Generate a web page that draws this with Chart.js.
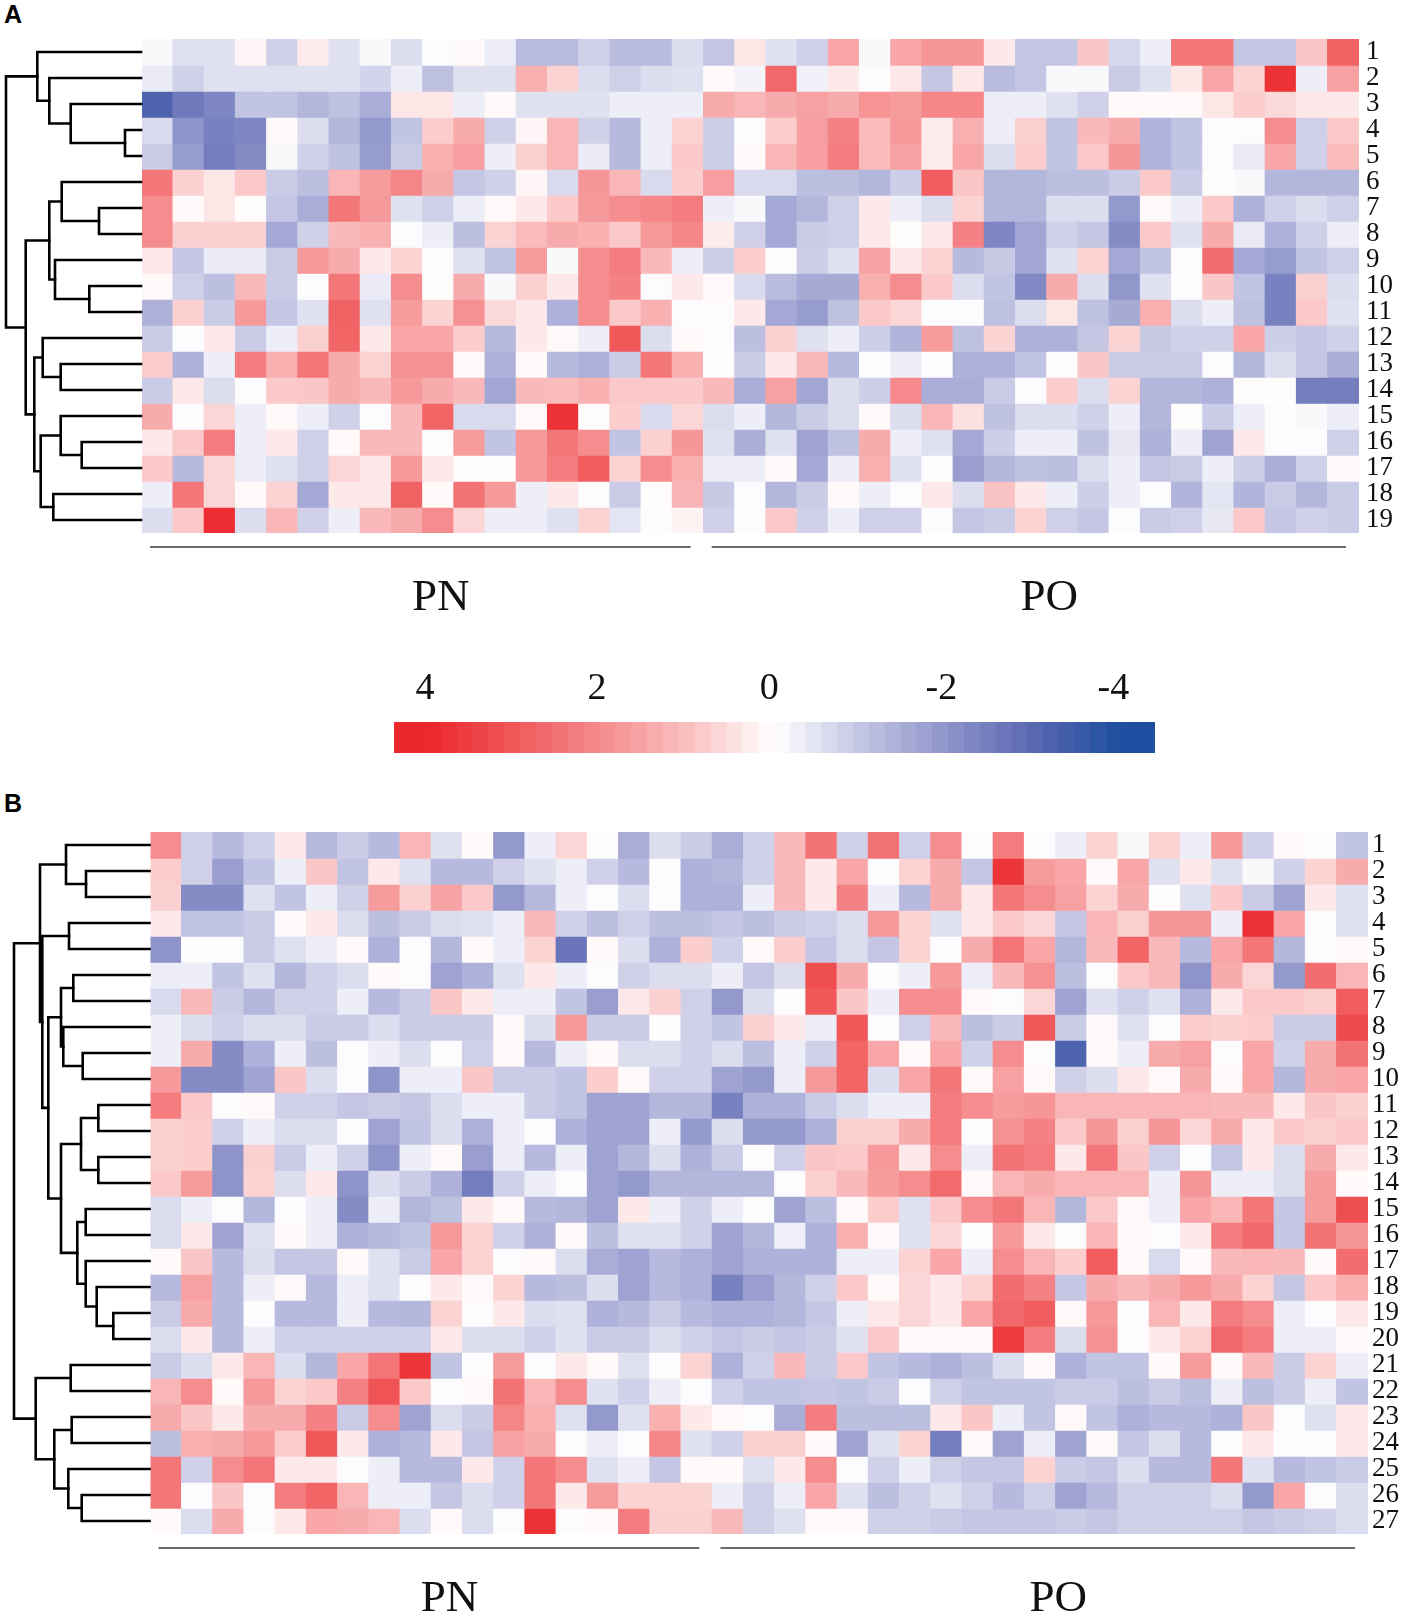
<!DOCTYPE html>
<html><head><meta charset="utf-8">
<script src="https://cdn.jsdelivr.net/npm/chart.js@4.4.1/dist/chart.umd.min.js"></script>
<style>
html,body{margin:0;padding:0;background:#fff;}
#wrap{position:relative;width:1402px;height:1619px;overflow:hidden;background:#fff;}
canvas{position:absolute;}
.plab{position:absolute;font-family:"Liberation Sans",Arial,sans-serif;font-weight:bold;font-size:25px;line-height:25px;color:#000;}
</style></head><body>
<div id="wrap">
<div class="plab" style="left:4px;top:2px;">A</div>
<div class="plab" style="left:4px;top:791px;">B</div>
<canvas id="cA" width="1402" height="650" style="left:0;top:0"></canvas>
<canvas id="cBar" width="800" height="130" style="left:380px;top:640px"></canvas>
<canvas id="cB" width="1402" height="839" style="left:0;top:780px"></canvas>
</div>
<script>
// ---------------- DATA ----------------
// Panel A : 19 rows x 39 samples (18 PN + 21 PO)
const a01=[-0.1,-0.55,-0.55,0.15,-0.8,0.3,-0.55,-0.1,-0.6,-0.05,0.1,-0.3,-1.2,-1.2,-0.8,-1.2,-1.2,-0.6,-1.0,0.4,-0.55,-0.8,1.5,-0.1,1.5,1.8,1.8,0.35,-1.0,-1.0,0.9,-0.7,-0.3,2.4,2.4,-1.0,-1.0,0.9,2.8];
const a02=[-0.35,-0.8,-0.55,-0.55,-0.55,-0.55,-0.55,-0.75,-0.3,-1.1,-0.55,-0.55,1.3,0.7,-0.6,-0.8,-0.6,-0.55,0.1,-0.2,2.7,-0.25,0.35,-0.05,0.35,-1.0,0.35,-1.2,-1.0,-0.1,-0.1,-0.9,-0.55,0.4,1.5,0.7,3.8,-0.3,1.6];
const a03=[-3.2,-2.6,-2.3,-1.05,-1.05,-1.3,-1.1,-1.5,0.4,0.4,-0.3,0.1,-0.55,-0.55,-0.55,-0.3,-0.3,-0.3,1.4,1.2,1.4,1.6,1.4,1.85,1.7,2.1,2.1,-0.3,-0.3,-0.55,-0.8,0.1,0.1,0.1,0.4,0.8,0.6,0.35,0.35];
const a04=[-0.65,-2.0,-2.4,-2.3,0.1,-0.6,-1.3,-1.9,-1.05,0.8,1.4,-0.8,0.15,1.2,-0.8,-1.25,-0.3,0.7,-0.85,-0.05,0.8,1.65,2.2,1.1,1.75,0.3,1.3,-0.3,0.75,-1.05,1.15,1.4,-1.35,-1.05,-0.05,-0.05,2.0,-0.8,0.85];
const a05=[-0.9,-1.85,-2.5,-2.2,-0.1,-0.8,-1.1,-1.85,-0.9,1.3,1.65,-0.3,0.75,1.2,-0.35,-1.25,-0.3,0.85,-0.85,0.1,1.2,1.65,2.3,1.1,1.6,0.3,1.5,-0.6,0.8,-1.05,0.85,1.8,-1.35,-1.05,-0.05,-0.35,1.5,-0.8,1.1];
const a06=[2.4,0.75,0.4,0.85,-0.9,-1.15,1.2,1.7,2.1,1.4,-1.0,-0.8,0.15,-0.65,1.8,1.2,-0.65,0.8,1.65,-0.65,-0.65,-1.15,-1.15,-1.3,-0.85,2.9,0.9,-1.3,-1.3,-1.15,-1.15,-0.9,0.85,-0.9,0.05,-0.1,-1.3,-1.3,-1.3];
const a07=[2.0,0.1,0.4,0.05,-1.0,-1.5,2.4,1.75,-0.55,-0.8,-0.3,0.1,0.35,0.85,1.75,2.0,2.1,2.3,-0.3,-0.1,-1.6,-1.3,-0.8,0.35,-0.3,-0.6,0.7,-1.3,-1.3,-0.6,-0.6,-1.9,0.1,-0.3,0.85,-1.4,-0.8,-0.6,-0.8];
const a08=[2.0,0.75,0.75,0.75,-1.6,-0.8,1.15,1.3,-0.05,-0.3,-1.15,0.7,1.1,1.4,1.3,0.85,1.75,2.1,0.3,-0.8,-1.6,-0.9,-0.8,0.35,0.05,0.35,2.2,-2.3,-1.65,-0.8,-1.0,-2.2,0.85,-0.55,1.4,-0.35,-1.4,-0.8,-0.3];
const a09=[0.35,-1.0,-0.35,-0.35,-0.9,1.75,1.4,0.35,0.7,0.05,-0.55,-1.05,1.7,-0.1,2.0,2.3,1.15,-0.3,-0.85,0.8,-0.05,-0.85,-0.55,1.55,0.35,0.7,-1.25,-0.95,-1.65,-0.55,0.7,-1.6,-1.05,0.05,2.6,-1.6,-1.85,-1.05,-0.8];
const a10=[0.1,-0.8,-1.15,1.15,-0.9,-0.05,2.4,-0.35,2.0,0.05,1.4,-0.1,0.75,0.35,2.0,2.2,-0.05,0.35,0.1,-0.65,-1.2,-1.55,-1.55,1.3,2.0,0.85,-0.6,-1.05,-2.25,1.4,-0.6,-1.95,-0.55,-0.05,0.9,-1.05,-2.4,0.75,-0.6];
const a11=[-1.4,0.75,-0.9,1.75,-1.0,-0.55,2.8,-0.55,1.7,0.7,1.9,0.6,0.35,-1.4,2.0,0.85,1.3,-0.05,-0.05,0.35,-1.6,-1.85,-1.1,0.85,0.65,-0.05,-0.05,-1.1,-0.6,0.4,-1.1,-1.55,1.3,-0.6,-0.3,-1.1,-2.4,0.85,-0.55];
const a12=[-0.9,-0.05,0.35,-0.9,-0.3,0.75,2.75,0.35,1.5,1.5,0.8,-1.25,0.35,0.1,-0.3,3.0,-0.6,0.1,-0.05,-1.15,0.75,-0.55,-0.3,-0.85,-1.35,1.7,-1.1,0.7,-1.4,-1.4,-1.0,0.7,-0.95,-0.8,-0.8,1.5,-0.85,-1.0,-0.8];
const a13=[0.8,-1.4,-0.3,2.3,1.3,2.4,1.4,0.7,1.9,1.9,0.1,-1.4,0.1,-1.25,-1.4,-0.9,2.4,1.3,-0.05,-0.9,0.35,1.15,-1.25,-0.05,-0.3,-0.05,-1.4,-1.4,-1.05,0.05,0.9,-0.9,-0.9,-0.9,-0.05,-1.3,-0.6,-1.0,-1.5];
const a14=[-0.9,0.35,-0.6,-0.05,0.85,0.9,1.4,1.15,1.75,1.4,1.15,-1.65,1.15,1.1,1.3,0.85,0.85,0.85,1.15,-1.5,1.6,-1.65,-0.6,-0.85,2.05,-1.5,-1.5,-0.9,-0.05,0.8,-0.6,0.7,-1.3,-1.3,-1.4,0.05,0.05,-2.5,-2.5];
const a15=[1.4,-0.05,0.65,-0.3,0.1,-0.3,-0.8,-0.05,1.15,2.75,-0.65,-0.65,0.1,3.8,0.05,0.8,-0.65,0.65,-0.6,-0.3,-1.3,-0.9,-0.6,0.1,-0.6,1.2,0.5,-1.1,-0.6,-0.6,-0.8,-0.3,-1.3,0.05,-0.9,-0.3,-0.05,-0.1,-0.3];
const a16=[0.35,0.85,2.3,-0.3,0.35,-0.8,0.1,1.15,1.15,-0.05,1.7,-1.05,1.75,2.4,2.0,-1.05,0.75,1.8,-0.55,-1.45,-0.55,-1.7,-1.1,1.4,-0.3,-0.55,-1.6,-0.85,-0.3,-0.3,-1.1,-0.4,-1.4,-0.3,-1.7,0.35,-0.05,-0.05,-0.8];
const a17=[0.85,-1.25,0.65,-0.3,-0.55,-0.8,0.65,0.35,1.75,0.35,0.05,0.05,1.75,2.3,2.9,0.7,2.0,1.3,-0.3,-0.3,0.1,-1.6,-0.3,1.3,-0.55,-0.05,-1.8,-1.3,-1.1,-1.15,-0.6,-0.3,-1.0,-0.9,-0.3,-0.85,-1.5,-0.8,0.1];
const a18=[-0.3,2.4,0.65,0.1,0.7,-1.6,0.35,0.35,2.8,0.1,2.5,1.75,-0.3,0.35,-0.05,-0.9,0.05,1.25,-0.95,-0.05,-1.3,-0.9,0.1,-0.3,-0.05,0.35,-0.6,0.95,0.35,-0.3,-0.85,-0.3,-0.05,-1.35,-0.45,-1.35,-0.9,-1.3,-0.9];
const a19=[-0.6,0.85,3.9,-0.6,1.2,-0.8,-0.3,1.15,1.4,2.0,0.65,-0.3,-0.3,-0.55,0.7,-0.45,0.05,0.2,-0.8,-0.05,0.85,-0.8,-0.3,-0.8,-0.8,-0.05,-1.0,-0.9,0.7,-0.8,-1.0,-0.05,-0.9,-0.8,-0.4,0.85,-1.0,-0.8,-0.9];

// Panel B : 27 rows x 39 samples (18 PN + 21 PO)
const b01=[2.0,-0.8,-1.25,-0.8,0.35,-1.25,-0.9,-1.25,1.2,-0.55,0.1,-1.9,-0.3,0.65,-0.05,-1.5,-0.6,-0.9,-1.5,-0.8,1.15,2.5,-0.8,2.5,-0.8,2.0,-0.05,2.3,-0.05,-0.3,0.7,-0.1,0.7,-0.3,1.75,-0.8,0.1,-0.05,-1.05];
const b02=[0.8,-0.8,-1.8,-1.05,-0.3,0.9,-1.05,0.35,-0.55,-1.25,-1.25,-0.8,-0.55,-0.3,-0.8,-1.25,-0.05,-1.4,-1.3,-0.8,1.15,0.35,1.5,-0.05,0.7,1.4,-1.0,3.7,1.7,1.5,0.1,1.5,-0.55,0.35,-0.55,-0.1,-0.8,0.7,1.4];
const b03=[0.75,-2.2,-2.2,-0.55,-1.05,-0.3,-0.8,1.7,0.75,1.55,0.85,-1.9,-1.25,-0.3,-0.05,-0.6,-0.05,-1.4,-1.4,-0.3,1.15,0.35,2.2,-0.3,-1.25,1.4,0.35,2.4,2.0,1.6,0.7,1.4,0.05,-0.55,0.85,-0.9,-1.7,0.35,-0.55];
const b04=[0.35,-1.05,-1.05,-0.9,0.1,0.35,-0.6,-1.15,-0.9,-0.6,-0.55,-0.3,1.15,-0.8,-1.15,-0.8,-1.15,-1.15,-1.0,-1.15,-0.9,-0.8,-0.6,1.75,0.7,-0.55,0.35,0.85,0.65,-1.0,1.2,0.75,1.8,1.8,-0.3,3.8,1.5,-0.05,-0.55];
const b05=[-2.0,-0.05,-0.05,-0.9,-0.55,-0.3,0.1,-1.4,-0.05,-1.3,0.1,-0.3,0.7,-2.7,0.1,-0.6,-1.4,0.8,-0.8,0.1,0.8,-1.0,-0.6,-1.0,0.7,-0.05,1.4,2.45,1.5,-1.3,1.15,2.75,1.15,-1.25,1.5,2.4,-1.3,-0.05,0.1];
const b06=[-0.3,-0.3,-1.05,-0.55,-1.3,-0.8,-0.6,0.1,-0.05,-1.7,-1.4,-0.55,0.35,-0.3,-0.05,-0.8,-0.6,-0.6,-0.3,-1.0,-0.6,3.2,1.4,-0.05,-0.3,1.75,-0.3,1.15,1.9,-1.15,-0.05,0.85,1.15,-2.0,1.4,0.65,-1.9,2.6,1.2];
const b07=[-0.65,1.15,-0.9,-1.3,-0.8,-0.8,-0.3,-1.25,-0.9,0.9,0.35,-0.3,-0.3,-1.05,-1.8,0.35,0.75,-0.8,-1.9,-0.6,-0.05,3.0,0.9,-0.3,2.0,2.0,0.1,-0.05,0.65,-1.7,-0.55,-0.8,-0.55,-1.4,0.35,0.85,0.85,0.75,2.9];
const b08=[-0.3,-0.6,-0.8,-0.6,-0.6,-0.9,-0.9,-0.6,-0.9,-0.9,-0.9,0.1,-0.6,1.75,-0.9,-0.9,-0.05,-0.8,-1.05,0.75,0.35,-0.3,3.0,-0.05,-0.8,1.15,-1.15,-0.9,3.0,-0.9,0.1,-0.55,-0.05,0.8,0.75,0.8,-0.9,-0.9,3.3];
const b09=[-0.3,1.4,-2.2,-1.4,-0.3,-1.15,-0.05,-0.3,-0.6,-0.05,-0.8,0.1,-1.25,-0.3,0.1,-0.6,-0.6,-0.8,-0.6,-1.15,-0.3,-0.8,2.75,1.5,0.1,1.5,-0.8,2.0,-0.05,-3.2,0.1,-0.3,1.4,1.6,-0.05,1.5,-0.8,1.4,2.5];
const b10=[1.75,-2.2,-2.2,-1.7,0.9,-0.6,-0.05,-2.0,-0.3,-0.3,0.9,-0.9,-0.9,-1.05,0.8,0.1,-0.8,-0.8,-1.7,-1.9,-0.3,1.75,2.75,-0.6,1.5,2.4,0.1,1.6,0.1,-0.8,-0.6,0.35,0.1,1.4,0.1,1.5,-1.3,1.4,1.5];
const b11=[2.3,0.85,-0.05,0.1,-0.8,-0.8,-1.0,-0.9,-1.0,-0.6,-0.3,-0.3,-0.9,-1.05,-1.7,-1.7,-1.3,-1.3,-2.4,-1.4,-1.4,-0.9,-0.6,-0.3,-0.3,2.3,2.0,1.7,1.8,1.2,1.2,1.2,1.2,1.2,1.15,1.15,0.35,0.9,0.75];
const b12=[0.75,0.8,-0.8,-0.3,-0.6,-0.6,-0.05,-1.7,-1.05,-0.6,-1.4,-0.3,-0.05,-1.4,-1.7,-1.7,-0.3,-1.9,-0.6,-1.9,-1.9,-1.4,0.75,0.75,1.4,2.3,-0.05,1.9,2.2,0.85,1.8,0.75,1.8,0.65,1.4,0.35,0.85,0.75,0.85];
const b13=[0.75,0.8,-2.0,0.75,-0.9,-0.3,-0.8,-2.0,-0.3,0.1,-1.8,-0.3,-1.25,-0.3,-1.7,-1.3,-0.6,-1.4,-0.9,-0.05,-0.8,0.9,0.85,1.75,0.35,2.0,-0.3,2.5,2.3,0.35,2.45,0.9,-0.8,-0.05,-1.0,0.35,-0.6,1.4,0.35];
const b14=[0.85,1.7,-2.0,0.7,-0.6,0.35,-2.0,-0.6,-0.9,-1.4,-2.5,-0.8,-0.3,-0.05,-1.7,-1.9,-1.3,-1.3,-1.3,-1.3,-0.05,0.75,1.15,1.7,2.0,2.65,0.1,1.2,1.4,1.2,1.2,1.2,-0.3,1.8,-0.3,-0.3,-0.6,1.7,0.1];
const b15=[-0.6,-0.3,-0.05,-1.3,-0.05,-0.3,-2.2,-0.3,-1.3,-1.1,0.35,0.1,-1.25,-1.3,-1.7,0.35,-0.3,-0.8,-0.3,-0.05,-1.7,-1.15,0.1,0.8,-0.55,0.85,2.0,2.4,1.2,-1.3,0.85,0.1,-0.3,1.5,1.2,2.4,-1.0,1.7,3.2];
const b16=[-0.6,0.35,-1.7,-0.55,0.1,-0.3,-1.4,-1.25,-1.05,1.75,0.7,-0.8,-1.4,0.1,-1.15,-0.55,-0.55,-0.8,-1.7,-1.3,-0.25,-1.4,1.3,0.1,-0.55,0.65,-0.05,1.75,0.35,-0.05,1.2,0.1,-0.05,0.35,2.3,2.7,-1.0,2.5,1.8];
const b17=[0.1,0.9,-1.25,-0.6,-1.0,-1.0,0.1,-0.55,-0.9,1.5,0.7,-0.05,0.1,-0.6,-1.5,-1.7,-1.25,-1.4,-1.7,-1.4,-1.4,-1.4,-0.3,-0.3,0.7,1.5,-0.3,2.0,1.2,0.8,2.9,0.1,-0.65,0.1,1.15,1.2,1.15,0.1,2.6];
const b18=[-1.25,1.6,-1.25,-0.3,0.1,-1.25,-0.3,-0.55,-0.05,0.35,0.1,0.7,-1.25,-1.15,-0.6,-1.7,-1.25,-1.4,-2.4,-1.8,-1.3,-0.8,0.85,0.1,0.65,0.35,0.7,2.6,2.2,-1.0,1.4,1.15,1.4,1.75,1.4,0.7,-1.0,0.85,1.3];
const b19=[-0.9,1.4,-1.25,-0.05,-1.25,-1.25,-0.3,-1.25,-1.3,0.7,-0.05,0.35,-0.6,-0.55,-1.4,-1.25,-0.9,-1.25,-1.4,-1.4,-1.3,-1.0,-0.3,0.35,0.65,0.35,1.5,2.7,2.9,0.1,1.75,-0.05,1.2,0.35,2.3,2.0,-0.3,-0.05,0.35];
const b20=[-0.6,0.35,-1.25,-0.3,-0.8,-0.8,-0.8,-0.8,-0.8,0.35,-0.6,-0.6,-0.8,-0.55,-0.9,-0.9,-0.6,-0.8,-1.0,-0.9,-1.0,-0.9,-0.55,0.85,0.1,0.1,0.1,3.6,2.3,-0.6,1.9,-0.05,0.35,0.7,2.7,2.3,-0.3,-0.3,0.1];
const b21=[-0.9,-0.6,0.35,1.2,-0.6,-1.3,1.5,2.45,3.7,-1.05,-0.05,1.7,-0.05,0.35,0.1,-0.55,-0.05,0.7,-1.4,-0.8,1.15,-0.9,0.85,-1.05,-1.25,-1.4,-1.15,-0.6,0.1,-1.4,-1.05,-1.05,0.1,1.7,0.1,1.15,-0.9,0.7,-0.3];
const b22=[1.2,2.0,0.1,1.75,0.7,0.85,2.2,3.1,0.85,-0.05,0.1,2.5,1.2,2.0,-0.55,-0.8,-0.3,-0.05,-0.8,-1.05,-1.05,-1.0,-1.05,-0.9,-0.05,-0.8,-1.05,-1.05,-1.05,-0.9,-0.9,-1.15,-0.9,-1.15,-0.3,-1.15,-0.9,-0.3,-1.05];
const b23=[1.4,0.9,0.35,1.4,1.4,2.2,-0.9,2.0,-1.7,-0.6,-0.9,2.1,1.3,-0.55,-1.9,-0.55,1.3,0.35,0.1,-0.05,-1.5,2.3,-1.15,-1.15,-1.15,0.35,0.9,-0.3,-1.05,0.1,-1.05,-1.4,-1.25,-1.25,-1.4,0.9,-0.05,-0.55,0.35];
const b24=[-1.15,1.3,1.4,1.75,0.8,3.0,0.35,-1.4,-1.25,0.35,-1.0,1.6,1.4,-0.05,-0.3,-0.05,2.1,-0.55,-0.8,0.75,0.75,0.1,-1.7,-0.55,0.7,-2.5,0.1,-1.7,-0.3,-1.7,0.1,-1.0,-0.6,-1.25,-0.05,0.35,-0.05,-0.05,0.35];
const b25=[2.4,-0.8,2.0,2.45,0.35,0.35,-0.05,-0.3,-1.25,-1.25,0.35,-0.8,2.4,2.0,-0.55,-0.3,-1.0,0.1,0.1,-0.55,0.35,2.0,-0.05,-0.8,-0.3,-0.8,-1.0,-1.0,0.7,-0.9,-1.0,-0.6,-1.25,-1.25,2.4,-0.55,-1.25,-1.05,-0.9];
const b26=[2.4,-0.05,0.9,-0.05,2.3,2.75,1.2,-0.3,-0.3,-1.0,-0.6,-0.8,2.4,0.35,1.7,0.7,0.7,0.7,-0.3,-0.8,-0.3,1.5,-0.55,-1.15,-0.8,-0.55,-0.8,-1.25,-0.8,-1.7,-1.25,-0.8,-0.8,-0.8,-0.6,-1.9,1.5,-0.05,-0.6];
const b27=[0.1,-0.6,1.4,-0.05,0.35,1.5,1.4,1.2,-0.6,0.1,-0.6,-0.05,3.8,-0.05,0.1,2.3,0.75,0.75,1.15,-0.8,-0.55,0.1,0.1,-0.8,-0.8,-0.9,-1.0,-1.0,-1.0,-0.9,-1.0,-0.8,-0.8,-0.8,-0.8,-1.0,-0.9,-0.8,-0.6];

const rowsA=[a01,a02,a03,a04,a05,a06,a07,a08,a09,a10,a11,a12,a13,a14,a15,a16,a17,a18,a19];
const rowsB=[b01,b02,b03,b04,b05,b06,b07,b08,b09,b10,b11,b12,b13,b14,b15,b16,b17,b18,b19,b20,b21,b22,b23,b24,b25,b26,b27];
const rowLabelsA=['1','2','3','4','5','6','7','8','9','10','11','12','13','14','15','16','17','18','19'];
const rowLabelsB=['1','2','3','4','5','6','7','8','9','10','11','12','13','14','15','16','17','18','19','20','21','22','23','24','25','26','27'];

// sample groups (column counts)
const groupNames=['PN','PO'];
const groupSizes=[18,21];

// hierarchical clustering of rows: [childA, childB, linkage height]
// numbers = leaf row index (0-based), 'nK' = K-th merge
const linkA=[[3,4,17],[2,'n0',71.3],[1,'n1',92.7],[0,'n2',104.7],
  [6,7,43],[5,'n4',80.3],[9,10,52.7],[8,'n6',87],['n5','n7',92.7],
  [12,13,81.3],[11,'n9',99.3],[15,16,60.3],[14,'n11',81.3],[17,18,88.7],
  ['n12','n13',101.3],['n10','n14',107.7],['n8','n15',116.3],['n3','n16',136]];
const linkB=[[1,2,64.5],[0,'n0',84.5],[3,4,81.5],[5,6,77.2],[8,9,67.8],[7,'n4',87.2],
  ['n3','n5',89.5],[10,11,52.2],[12,13,52.2],['n7','n8',69.5],[14,15,64.8],
  [18,19,37.2],[17,'n11',53.8],[16,'n12',64.8],['n10','n13',73.2],['n9','n14',89.5],
  ['n6','n15',102.2],['n2','n16',108.2],['n1','n17',110.5],
  [20,21,79.8],[22,23,78.8],[25,26,68.8],[24,'n21',82.2],['n20','n22',96.2],
  ['n19','n23',114.8],['n18','n24',136.5]];

// colour scale
const colorbarTicks=[4,2,0,-2,-4];
const colorbarLabels=['4','2','0','-2','-4'];

// ---------------- HELPERS ----------------
const redStops=[[0,255,255,255],[1,250,192,192],[2,245,140,142],[3,240,88,90],[4,236,40,44]];
const blueStops=[[0,255,255,255],[1,196,198,228],[2,142,148,202],[3,90,104,178],[4,31,79,160]];
function cellColor(v){
  const st = v>=0 ? redStops : blueStops;
  let a=Math.min(Math.abs(v),4);
  let i=0; while(i<st.length-2 && a>st[i+1][0]) i++;
  const p=st[i], q=st[i+1], t=(a-p[0])/(q[0]-p[0]);
  const c=k=>Math.round(p[k]+(q[k]-p[k])*t);
  return 'rgb('+c(1)+','+c(2)+','+c(3)+')';
}
function sampleLabels(){
  const out=[]; groupNames.forEach((g,gi)=>{for(let k=1;k<=groupSizes[gi];k++) out.push(g+k);}); return out;
}
const SERIF='"Liberation Serif","Times New Roman",Times,serif';
const nCols=groupSizes.reduce((s,v)=>s+v,0);

function heatDatasets(rows){
  return rows.map((row,r)=>({
    label:'row'+(r+1),
    data: row.map(()=>[r-0.5,r+0.5]),
    backgroundColor: row.map(cellColor),
    borderWidth:0, grouped:false, barPercentage:1, categoryPercentage:1, inflateAmount:0.7
  }));
}

function decorPlugin(link, nLeaves, dendroMargin, lineOff){
  return {
    id:'decor',
    afterDraw(chart){
      const {ctx, chartArea:a, scales:{y}} = chart;
      // dendrogram
      const topH = link[link.length-1][2];
      const k = (a.left - dendroMargin)/topH;
      const X={}, Y={};
      for(let i=0;i<nLeaves;i++){ X[i]=a.left-1; Y[i]=y.getPixelForValue(i); }
      ctx.save();
      ctx.strokeStyle='#000'; ctx.lineWidth=2.6; ctx.lineCap='square'; ctx.lineJoin='miter';
      link.forEach(([p,q,h],m)=>{
        const xx=a.left-h*k;
        ctx.beginPath();
        ctx.moveTo(X[p],Y[p]); ctx.lineTo(xx,Y[p]); ctx.lineTo(xx,Y[q]); ctx.lineTo(X[q],Y[q]);
        ctx.stroke();
        X['n'+m]=xx; Y['n'+m]=(Y[p]+Y[q])/2;
      });
      // group bars + names
      const bw=a.width/nCols;
      let start=0;
      ctx.lineCap='butt'; ctx.strokeStyle='#3a3a3a'; ctx.lineWidth=1.6;
      ctx.fillStyle='#111'; ctx.font='45px '+SERIF; ctx.textAlign='center'; ctx.textBaseline='alphabetic';
      groupNames.forEach((g,gi)=>{
        const x0=a.left+start*bw, x1=a.left+(start+groupSizes[gi])*bw;
        const ly=a.bottom+lineOff;
        ctx.beginPath(); ctx.moveTo(x0+8,ly); ctx.lineTo(x1-13,ly); ctx.stroke();
        ctx.fillText(g,(x0+x1)/2+18,a.bottom+77);
        start+=groupSizes[gi];
      });
      ctx.restore();
    }
  };
}

function heatChart(id, rows, rowLabels, link, pad, axisW, tickPad, margin){
  return new Chart(document.getElementById(id),{
    type:'bar',
    data:{labels:sampleLabels(), datasets:heatDatasets(rows)},
    options:{
      responsive:false, animation:false, events:[],
      layout:{padding:pad},
      plugins:{legend:{display:false},tooltip:{enabled:false},title:{display:false}},
      scales:{
        x:{type:'category', display:false, offset:true},
        y:{type:'linear', min:-0.5, max:rows.length-0.5, reverse:true, position:'right',
           grid:{display:false, drawTicks:false}, border:{display:false},
           afterBuildTicks:s=>{ s.ticks=rowLabels.map((_,i)=>({value:i})); },
           afterFit:s=>{ s.width=axisW; },
           ticks:{autoSkip:false, padding:tickPad, color:'#111',
             font:{family:SERIF, size:27, lineHeight:1},
             callback:(v,i)=>rowLabels[i]}}
      }
    },
    plugins:[decorPlugin(link, rows.length, margin, 14)]
  });
}

heatChart('cA', rowsA, rowLabelsA, linkA, {left:142, top:39, right:0, bottom:117}, 43, 7, 6);
heatChart('cB', rowsB, rowLabelsB, linkB, {left:150.5, top:52, right:0, bottom:85}, 34, 4, 14);

// ---------------- COLOUR BAR ----------------
const barMin=-4.42, barMax=4.42, nSteps=48;
const steps=[];
for(let i=0;i<nSteps;i++){ const lo=barMin+i*(barMax-barMin)/nSteps, hi=lo+(barMax-barMin)/nSteps; steps.push([lo,hi]); }
new Chart(document.getElementById('cBar'),{
  type:'bar',
  data:{labels:['z'], datasets:steps.map(([lo,hi])=>({data:[[lo,hi]], backgroundColor:cellColor((lo+hi)/2),
    xAxisID:'xb', borderWidth:0, grouped:false, barPercentage:1, categoryPercentage:1, inflateAmount:0.7}))},
  options:{
    indexAxis:'y', responsive:false, animation:false, events:[],
    layout:{padding:{left:14, right:25, top:0, bottom:17}},
    plugins:{legend:{display:false},tooltip:{enabled:false}},
    scales:{
      y:{display:false},
      xb:{type:'linear', axis:'x', display:false, min:barMin, max:barMax, reverse:true},
      x:{type:'linear', axis:'x', position:'top', min:-4.483, max:4.36, reverse:true,
         grid:{display:false, drawTicks:false}, border:{display:false},
         afterBuildTicks:s=>{ s.ticks=colorbarTicks.map(v=>({value:v})); },
         afterFit:s=>{ s.height=82; },
         ticks:{autoSkip:false, padding:10, color:'#111', maxRotation:0,
           font:{family:SERIF, size:38},
           callback:(v,i)=>colorbarLabels[i]}}
    }
  }
});
</script>
</body></html>
